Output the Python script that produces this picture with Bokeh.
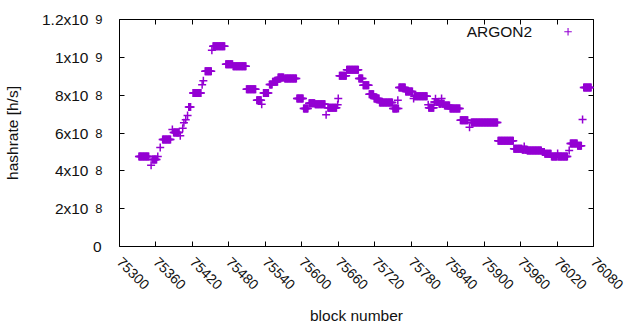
import math
import numpy as np
from bokeh.plotting import figure
from bokeh.models import Range1d, FixedTicker, LinearAxis, Label
from bokeh.embed import file_html
from bokeh.resources import INLINE

# ---- data: runs of consecutive blocks sharing one hashrate estimate ----
run_first = [75332, 75352, 75354, 75363, 75367, 75371, 75387, 75389, 75400, 75404,
             75406, 75409, 75412, 75414, 75421, 75436, 75438, 75441, 75452, 75454,
             75475, 75487, 75509, 75526, 75534, 75537, 75547, 75552, 75561, 75572,
             75592, 75603, 75612, 75622, 75640, 75643, 75659, 75660, 75662, 75674,
             75694, 75701, 75711, 75719, 75728, 75750, 75758, 75759, 75760, 75771,
             75784, 75785, 75808, 75809, 75818, 75820, 75821, 75826, 75830, 75831,
             75835, 75844, 75861, 75876, 75879, 75923, 75949, 75963, 75966, 75967,
             75971, 75996, 76000, 76011, 76021, 76022, 76040, 76042, 76054, 76062,
             76064]
run_last = [75348, 75352, 75361, 75363, 75367, 75384, 75387, 75398, 75400, 75404,
            75406, 75409, 75412, 75417, 75434, 75436, 75438, 75451, 75452, 75473,
            75486, 75508, 75524, 75533, 75534, 75545, 75551, 75560, 75570, 75591,
            75602, 75610, 75621, 75638, 75640, 75657, 75659, 75660, 75673, 75693,
            75700, 75710, 75718, 75727, 75749, 75757, 75758, 75759, 75770, 75782,
            75784, 75806, 75808, 75817, 75819, 75820, 75825, 75829, 75830, 75834,
            75843, 75860, 75873, 75876, 75922, 75948, 75962, 75965, 75966, 75970,
            75994, 75999, 76010, 76020, 76021, 76037, 76040, 76053, 76060, 76062,
            76076]
run_value = [476e6, 429e6, 460e6, 476e6, 524e6, 566e6, 619e6, 603e6, 585e6, 625e6,
             654e6, 670e6, 693e6, 738e6, 812e6, 855e6, 876e6, 926e6, 1037e6, 1059e6,
             963e6, 953e6, 831e6, 773e6, 752e6, 812e6, 857e6, 871e6, 893e6, 888e6,
             782e6, 729e6, 757e6, 752e6, 697e6, 734e6, 750e6, 783e6, 902e6, 935e6,
             888e6, 852e6, 805e6, 783e6, 761e6, 729e6, 773e6, 729e6, 840e6, 820e6,
             782e6, 794e6, 750e6, 734e6, 764e6, 781e6, 764e6, 755e6, 782e6, 755e6,
             746e6, 729e6, 667e6, 630e6, 655e6, 559e6, 517e6, 512e6, 529e6, 512e6,
             508e6, 500e6, 490e6, 476e6, 492e6, 476e6, 507e6, 544e6, 532e6, 671e6,
             840e6]

series_name = "ARGON2"
x_ticks = [75300, 75360, 75420, 75480, 75540, 75600, 75660, 75720, 75780, 75840,
           75900, 75960, 76020, 76080]
y_ticks = [0, 200000000, 400000000, 600000000, 800000000, 1000000000, 1200000000]
y_mant = ["0", "2x10", "4x10", "6x10", "8x10", "1x10", "1.2x10"]
y_exp = ["", "8", "8", "8", "8", "9", "9"]

X_START, X_END = 75300, 76080
Y_START, Y_END = 0, 1200000000

# one point per block
blocks = np.concatenate([np.arange(a, b + 1) for a, b in zip(run_first, run_last)])
rates = np.concatenate([np.full(b - a + 1, v) for a, b, v in zip(run_first, run_last, run_value)])

FONT = "Liberation Sans"
FS = "15.5px"
TXT = "#111111"
COLOR = "#9400D3"

p = figure(width=640, height=330, output_backend="svg", toolbar_location=None,
           x_range=Range1d(X_START, X_END), y_range=Range1d(Y_START, Y_END),
           min_border_left=114, min_border_right=47, min_border_top=19,
           min_border_bottom=84)
p.grid.visible = False
p.outline_line_color = "black"
p.outline_line_width = 1
p.outline_line_alpha = 1

NOTICK = dict(axis_line_color=None, major_tick_line_color=None, major_tick_in=0,
              major_tick_out=0, minor_tick_line_color=None)


def blank(ticks):
    return {t: "" for t in ticks}


# ---- x axis: inner ticks, rotated labels, title ----
xa = p.xaxis[0]
xa.ticker = FixedTicker(ticks=x_ticks)
xa.major_label_orientation = -math.pi / 4
xa.major_tick_in = 5
xa.major_tick_out = 0
xa.minor_tick_line_color = None
xa.axis_line_color = None
xa.major_tick_line_color = "black"
xa.major_label_text_font = FONT
xa.major_label_text_font_size = "14px"
xa.major_label_text_color = TXT
xa.major_label_standoff = 13
xa.axis_label = "block number"
xa.axis_label_text_font = FONT
xa.axis_label_text_font_size = FS
xa.axis_label_text_font_style = "normal"
xa.axis_label_text_color = TXT
xa.axis_label_standoff = 10

# ---- y: ticks + "0" (inner) ----
ya = p.yaxis[0]
ya.ticker = FixedTicker(ticks=y_ticks)
ya.major_label_overrides = {t: (m if e == "" else "") for t, m, e in zip(y_ticks, y_mant, y_exp)}
ya.major_label_text_font = FONT
ya.major_label_text_font_size = FS
ya.major_label_text_color = TXT
ya.major_label_standoff = 18
ya.major_tick_in = 5
ya.major_tick_out = 0
ya.minor_tick_line_color = None
ya.axis_line_color = None
ya.major_tick_line_color = "black"

# ---- y: superscript exponents (middle) ----
exp_axis = LinearAxis(ticker=FixedTicker(ticks=y_ticks),
                      major_label_overrides={t: e for t, e in zip(y_ticks, y_exp)},
                      major_label_text_font=FONT, major_label_text_font_size="13px",
                      major_label_text_color=TXT, major_label_standoff=-13, **NOTICK)
p.add_layout(exp_axis, "left")

# ---- y: mantissas + title (outer) ----
mant_axis = LinearAxis(ticker=FixedTicker(ticks=y_ticks),
                       major_label_overrides={t: (m if e else "") for t, m, e in zip(y_ticks, y_mant, y_exp)},
                       major_label_text_font=FONT, major_label_text_font_size=FS,
                       major_label_text_color=TXT, major_label_standoff=1,
                       axis_label="hashrate [h/s]", axis_label_text_font=FONT,
                       axis_label_text_font_size=FS, axis_label_text_font_style="normal",
                       axis_label_text_color=TXT, axis_label_standoff=18, **NOTICK)
p.add_layout(mant_axis, "left")

# ---- mirrored ticks on the right and top ----
for side, tk in (("right", y_ticks), ("above", x_ticks)):
    p.add_layout(LinearAxis(ticker=FixedTicker(ticks=tk), major_label_overrides=blank(tk),
                            major_label_text_font_size="1px", major_label_text_color=None,
                            major_label_standoff=0, axis_line_color=None, major_tick_in=5,
                            major_tick_out=0, minor_tick_line_color=None,
                            major_tick_line_color="black"), side)

# ---- data ----
p.scatter(blocks, rates, marker="cross", size=8, line_color=COLOR, line_width=1.5)

# ---- gnuplot style key: text then sample ----
leg_x_text = X_START + 0.8705 * (X_END - X_START)
leg_x_mark = X_START + 0.9463 * (X_END - X_START)
leg_y = Y_START + 0.946 * (Y_END - Y_START)
p.add_layout(Label(x=leg_x_text, y=leg_y, text=series_name, text_align="right",
                   text_baseline="middle", text_font=FONT, text_font_size=FS,
                   text_color=TXT))
p.scatter([leg_x_mark], [leg_y], marker="cross", size=7.5, line_color=COLOR, line_width=1.1)

open("out.html", "w").write(file_html(p, INLINE))
